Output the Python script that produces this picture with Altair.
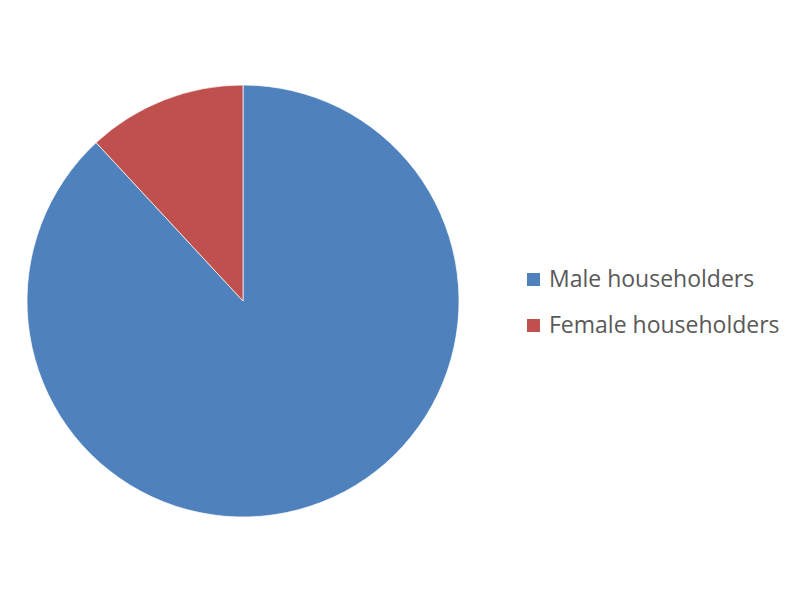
import altair as alt
import pandas as pd

categories = ["Male householders", "Female householders"]
shares = [88.1, 11.9]
colors = ["#4F81BD", "#C0504D"]
order = [0, 1]

df = pd.DataFrame({"category": categories, "share": shares, "order": order})

chart = alt.Chart(df).mark_arc(
    outerRadius=216, stroke="white", strokeWidth=0.7
).encode(
    theta=alt.Theta("share:Q", stack=True),
    order=alt.Order("order:Q"),
    x=alt.value(235),
    y=alt.value(293),
    color=alt.Color(
        "category:N",
        scale=alt.Scale(domain=categories, range=colors),
        sort=categories,
        legend=alt.Legend(
            title=None,
            orient="none",
            legendX=514,
            legendY=260,
            symbolType="square",
            symbolSize=170,
            symbolStrokeWidth=0,
            labelFontSize=23,
            labelFont="Open Sans",
            labelColor="#595959",
            labelOffset=4,
            rowPadding=22,
            labelLimit=400,
        ),
    ),
).properties(
    width=784, height=584, autosize=alt.AutoSizeParams(type="none"), padding=0
).configure_view(stroke=None)

chart.save("out.html", embed_options={"renderer": "svg", "actions": False})
